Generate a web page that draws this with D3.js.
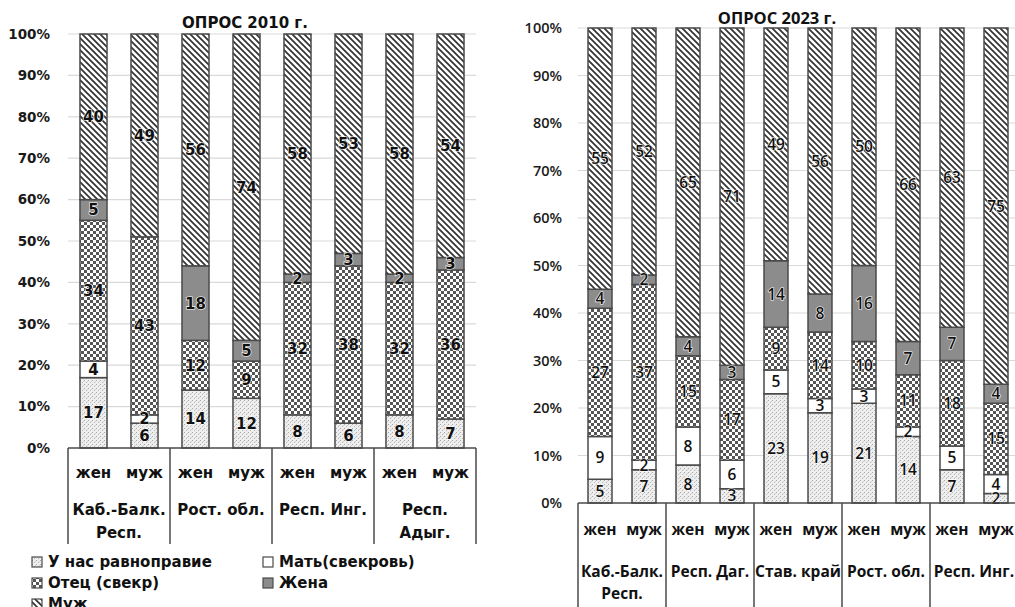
<!DOCTYPE html>
<html><head><meta charset="utf-8">
<script src="https://cdn.jsdelivr.net/npm/d3@7"></script>
<style>
html,body{margin:0;padding:0;background:#fff;overflow:hidden}
svg{display:block}
</style></head>
<body>
<svg id="c" width="1015" height="607"></svg>
<script>
// ---- data ----
const series = ["У нас равноправие","Мать(свекровь)","Отец (свекр)","Жена","Муж"];
const sexes2010 = ["жен","муж","жен","муж","жен","муж","жен","муж"];
const regions2010 = [["Каб.-Балк.","Респ."],["Рост. обл."],["Респ. Инг."],["Респ.","Адыг."]];
const equal2010   = [17,6,14,12,8,6,8,7];
const mother2010  = [4,2,0,0,0,0,0,0];
const father2010  = [34,43,12,9,32,38,32,36];
const wife2010    = [5,0,18,5,2,3,2,3];
const husband2010 = [40,49,56,74,58,53,58,54];

const sexes2023 = ["жен","муж","жен","муж","жен","муж","жен","муж","жен","муж"];
const regions2023 = [["Каб.-Балк.","Респ."],["Респ. Даг."],["Став. край"],["Рост. обл."],["Респ. Инг."]];
const equal2023   = [5,7,8,3,23,19,21,14,7,2];
const mother2023  = [9,2,8,6,5,3,3,2,5,4];
const father2023  = [27,37,15,17,9,14,10,11,18,15];
const wife2023    = [4,2,4,3,14,8,16,7,7,4];
const husband2023 = [55,52,65,71,49,56,50,66,63,75];

const yTicks = [0,10,20,30,40,50,60,70,80,90,100];

const svg = d3.select("#c");
const defs = svg.append("defs");

// patterns
const pDots = defs.append("pattern").attr("id","dots").attr("patternUnits","userSpaceOnUse").attr("width",4).attr("height",4);
pDots.append("rect").attr("width",4).attr("height",4).attr("fill","#eeeeee");
pDots.append("rect").attr("x",0).attr("y",0).attr("width",1).attr("height",1).attr("fill","#a8a8a8");
pDots.append("rect").attr("x",2).attr("y",2).attr("width",1).attr("height",1).attr("fill","#b8b8b8");
pDots.append("rect").attr("x",3).attr("y",1).attr("width",1).attr("height",1).attr("fill","#d0d0d0");

const pChk = defs.append("pattern").attr("id","check").attr("patternUnits","userSpaceOnUse").attr("width",6).attr("height",6);
pChk.append("rect").attr("width",6).attr("height",6).attr("fill","#ffffff");
pChk.append("rect").attr("x",0).attr("y",0).attr("width",3).attr("height",3).attr("fill","#555555");
pChk.append("rect").attr("x",3).attr("y",3).attr("width",3).attr("height",3).attr("fill","#555555");

const pHatch = defs.append("pattern").attr("id","hatch").attr("patternUnits","userSpaceOnUse").attr("width",6).attr("height",6);
pHatch.append("rect").attr("width",6).attr("height",6).attr("fill","#ffffff");
pHatch.append("path").attr("d","M-1,-1 L7,7 M-1,5 L1,7 M5,-1 L7,1").attr("stroke","#333333").attr("stroke-width",1.7);

const fills = ["url(#dots)","#ffffff","url(#check)","#8c8c8c","url(#hatch)"];

function drawChart(cfg){
  const {x0,x1,yTop,yBot,title,titleX,titleY,sexes,regions,data,font,weight,tickX,tickSize,labelSize,sexY,regY,regGap,sepBottom} = cfg;
  const g = svg.append("g");
  const y = d3.scaleLinear().domain([0,100]).range([yBot,yTop]);
  const idx = d3.range(sexes.length);
  const x = d3.scaleBand().domain(idx).range([x0,x1]).paddingInner(cfg.pad).paddingOuter(cfg.pad/2);

  // gridlines
  g.append("g").selectAll("line").data(yTicks.filter(t=>t>0)).join("line")
    .attr("x1",x0).attr("x2",x1).attr("y1",d=>y(d)).attr("y2",d=>y(d))
    .attr("stroke","#d9d9d9").attr("stroke-width",1.2);

  // y axis
  const ax = g.append("g").attr("transform",`translate(${tickX},0)`)
    .call(d3.axisLeft(y).tickValues(yTicks).tickSize(0).tickPadding(0).tickFormat(d=>d+"%"));
  ax.select(".domain").remove();
  ax.selectAll("text").attr("font-family",font).attr("font-weight",weight).attr("font-size",tickSize).attr("fill","#1a1a1a");

  // stacked
  const rows = idx.map(i=>{const o={i}; series.forEach((s,k)=>o[s]=data[k][i]); return o;});
  const stack = d3.stack().keys(series)(rows);
  stack.forEach((layer,k)=>{
    g.append("g").selectAll("rect").data(layer.filter(d=>d[1]-d[0]>0)).join("rect")
      .attr("x",d=>x(d.data.i)).attr("width",x.bandwidth())
      .attr("y",d=>y(d[1])).attr("height",d=>y(d[0])-y(d[1]))
      .attr("fill",fills[k]).attr("stroke","#4a4a4a").attr("stroke-width",1.5);
  });
  stack.forEach((layer,k)=>{
    g.append("g").selectAll("text").data(layer.filter(d=>d[1]-d[0]>0)).join("text")
      .attr("x",d=>x(d.data.i)+x.bandwidth()/2).attr("y",d=>y((d[0]+d[1])/2))
      .attr("dy","0.36em").attr("text-anchor","middle")
      .attr("font-family",font).attr("font-weight",weight).attr("font-size",labelSize)
      .attr("fill","#111").attr("stroke","#fff").attr("stroke-width",1.2).attr("paint-order","stroke")
      .text(d=>d[1]-d[0]);
  });

  // category axis frame
  g.append("line").attr("x1",x0).attr("x2",x1).attr("y1",yBot).attr("y2",yBot).attr("stroke","#4a4a4a").attr("stroke-width",1.5);
  const nG = regions.length;
  const gw = (x1-x0)/nG;
  d3.range(nG+1).forEach(j=>{
    g.append("line").attr("x1",x0+j*gw).attr("x2",x0+j*gw).attr("y1",yBot).attr("y2",sepBottom).attr("stroke","#4a4a4a").attr("stroke-width",1.5);
  });
  g.append("g").selectAll("text").data(idx).join("text")
    .attr("x",i=>x(i)+x.bandwidth()/2).attr("y",sexY).attr("dy","0.35em").attr("text-anchor","middle")
    .attr("font-family",font).attr("font-weight","bold").attr("font-size",cfg.catSize).attr("fill","#111")
    .text(i=>sexes[i]);
  regions.forEach((r,j)=>{
    r.forEach((line,l)=>{
      g.append("text").attr("x",x0+(j+0.5)*gw).attr("y",regY+l*regGap).attr("dy","0.35em").attr("text-anchor","middle")
        .attr("font-family",font).attr("font-weight","bold").attr("font-size",cfg.catSize).attr("fill","#111").text(line);
    });
  });
  g.append("text").attr("x",titleX).attr("y",titleY).attr("dy","0.35em").attr("text-anchor","middle")
    .attr("font-family",font).attr("font-weight","bold").attr("font-size",cfg.titleSize).attr("fill","#111").text(title);
}

drawChart({x0:68,x1:476,yTop:34,yBot:448,pad:0.47,title:"ОПРОС 2010 г.",titleX:245,titleY:23,
  sexes:sexes2010,regions:regions2010,data:[equal2010,mother2010,father2010,wife2010,husband2010],
  font:"'DejaVu Sans', sans-serif",weight:"bold",tickX:50,tickSize:13.5,labelSize:15,catSize:15,titleSize:15,
  sexY:473,regY:510,regGap:23,sepBottom:544});

drawChart({x0:578,x1:1018,yTop:28,yBot:503,pad:0.455,title:"ОПРОС 2023 г.",titleX:777,titleY:18,
  sexes:sexes2023,regions:regions2023,data:[equal2023,mother2023,father2023,wife2023,husband2023],
  font:"'Open Sans', sans-serif",weight:"600",tickX:562,tickSize:14.5,labelSize:15.5,catSize:15.5,titleSize:16.5,
  sexY:530,regY:572,regGap:22,sepBottom:607});

// legend
const legPos = [[37,562],[268,562],[37,583],[268,583],[37,604]];
const lg = svg.append("g");
series.forEach((s,k)=>{
  const [lx,ly] = legPos[k];
  lg.append("rect").attr("x",lx-5).attr("y",ly-5).attr("width",10).attr("height",10)
    .attr("fill",fills[k]).attr("stroke","#4a4a4a").attr("stroke-width",1.2);
  lg.append("text").attr("x",lx+11).attr("y",ly).attr("dy","0.36em")
    .attr("font-family","'DejaVu Sans', sans-serif").attr("font-weight","bold").attr("font-size",15).attr("fill","#111").text(s);
});
</script>
</body></html>
